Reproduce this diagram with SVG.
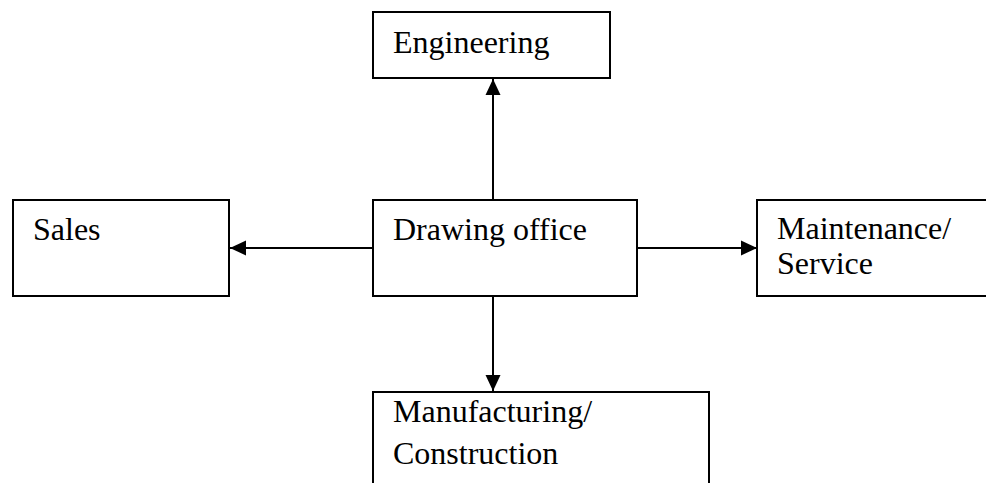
<svg xmlns="http://www.w3.org/2000/svg" width="986" height="483" viewBox="0 0 986 483">
<style>
.box{fill:#fff;stroke:#000;stroke-width:2}
.lbl{font-family:"Liberation Serif","Times New Roman",serif;font-size:32px;fill:#000}
.conn{stroke:#000;stroke-width:2;fill:none}
</style>
<defs>
<marker id="ah" markerWidth="16" markerHeight="16" viewBox="0 0 16 16" refX="16" refY="8" orient="auto" markerUnits="userSpaceOnUse">
<path d="M0,0.5 L16,8 L0,15.5 Z" fill="#000"/>
</marker>
</defs>
<rect width="986" height="483" fill="#fff"/>
<g id="connectors">
<line class="conn" x1="493" y1="200" x2="493" y2="79" marker-end="url(#ah)"/>
<line class="conn" x1="373" y1="248" x2="230" y2="248" marker-end="url(#ah)"/>
<line class="conn" x1="637" y1="248" x2="757" y2="248" marker-end="url(#ah)"/>
<line class="conn" x1="493" y1="296" x2="493" y2="391" marker-end="url(#ah)"/>
</g>
<g id="engineering">
<rect class="box" x="373" y="12" width="237" height="66"/>
<text class="lbl" x="393" y="53">Engineering</text>
</g>
<g id="sales">
<rect class="box" x="13" y="200" width="216" height="96"/>
<text class="lbl" x="33" y="240">Sales</text>
</g>
<g id="drawing-office">
<rect class="box" x="373" y="200" width="264" height="96"/>
<text class="lbl" x="393" y="240">Drawing office</text>
</g>
<g id="maintenance">
<rect class="box" x="757" y="200" width="240" height="96"/>
<text class="lbl" x="777" y="239">Maintenance/</text>
<text class="lbl" x="777" y="274">Service</text>
</g>
<g id="manufacturing">
<rect class="box" x="373" y="392" width="336" height="110"/>
<text class="lbl" x="393" y="422">Manufacturing/</text>
<text class="lbl" x="393" y="464">Construction</text>
</g>
</svg>
